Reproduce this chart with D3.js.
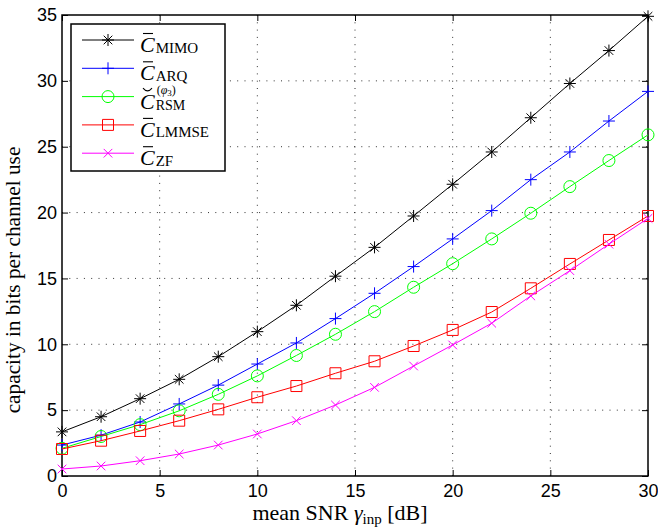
<!DOCTYPE html>
<html>
<head>
<meta charset="utf-8">
<script src="https://cdn.jsdelivr.net/npm/d3@7"></script>
<style>
  body { margin: 0; background: #fff; }
  svg { display: block; }
  .tick text { font-family: "Liberation Sans", Arial, sans-serif; font-size: 18px; fill: #000; }
</style>
</head>
<body>
<svg id="chart" width="658" height="527"></svg>
<script>
// mean SNR in dB
const snr = [0, 2, 4, 6, 8, 10, 12, 14, 16, 18, 20, 22, 24, 26, 28, 30]

const mimo  = [3.35, 4.5, 5.87, 7.34, 9.06, 10.96, 12.96, 15.17, 17.36, 19.74, 22.15, 24.6, 27.2, 29.8, 32.3, 34.9]
const arq   = [2.35, 3.1, 4.1, 5.47, 6.9, 8.5, 10.1, 11.95, 13.87, 15.9, 18.0, 20.15, 22.5, 24.6, 26.95, 29.2]
const rsm   = [2.1, 3.0, 3.9, 4.95, 6.2, 7.6, 9.15, 10.76, 12.48, 14.33, 16.12, 18.0, 19.95, 21.97, 23.95, 25.9]
const lmmse = [2.05, 2.68, 3.42, 4.2, 5.06, 5.98, 6.83, 7.8, 8.71, 9.87, 11.09, 12.45, 14.25, 16.1, 17.92, 19.74]
const zf    = [0.53, 0.76, 1.16, 1.67, 2.35, 3.19, 4.2, 5.39, 6.73, 8.35, 9.95, 11.6, 13.67, 15.59, 17.6, 19.56]

const xTicks = [0, 5, 10, 15, 20, 25, 30]
const yTicks = [0, 5, 10, 15, 20, 25, 30, 35]

const series = [
  { name: "MIMO",  values: mimo,  color: "#000000", marker: "star" },
  { name: "ARQ",   values: arq,   color: "#0000ff", marker: "plus" },
  { name: "RSM",   values: rsm,   color: "#00ff00", marker: "circle" },
  { name: "LMMSE", values: lmmse, color: "#ff0000", marker: "square" },
  { name: "ZF",    values: zf,    color: "#ff00ff", marker: "cross" }
]

const width = 658, height = 527
const margin = { top: 15, right: 10, bottom: 51, left: 62 }
const innerW = width - margin.left - margin.right
const innerH = height - margin.top - margin.bottom

const svg = d3.select("#chart")
const g = svg.append("g").attr("transform", "translate(" + margin.left + "," + margin.top + ")")

const x = d3.scaleLinear().domain([0, 30]).range([0, innerW])
const y = d3.scaleLinear().domain([0, 35]).range([innerH, 0])

/* dotted grid */
g.append("g").selectAll("line").data(xTicks.slice(1, -1)).enter().append("line")
  .attr("x1", d => x(d)).attr("x2", d => x(d)).attr("y1", 0).attr("y2", innerH)
  .attr("stroke", "#333").attr("stroke-width", 1).attr("stroke-dasharray", "1,6.3")
g.append("g").selectAll("line").data(yTicks.slice(1, -1)).enter().append("line")
  .attr("y1", d => y(d)).attr("y2", d => y(d)).attr("x1", 0).attr("x2", innerW)
  .attr("stroke", "#333").attr("stroke-width", 1).attr("stroke-dasharray", "1,6.3")

/* axes, ticks pointing inwards like matlab */
const tick = 6
g.append("g").attr("transform", "translate(0," + innerH + ")")
  .call(d3.axisBottom(x).tickValues(xTicks).tickSizeInner(-tick).tickSizeOuter(0).tickPadding(8))
g.append("g")
  .call(d3.axisLeft(y).tickValues(yTicks).tickSizeInner(-tick).tickSizeOuter(0).tickPadding(5))
g.append("g")
  .call(d3.axisTop(x).tickValues(xTicks).tickSizeInner(-tick).tickSizeOuter(0).tickFormat(""))
g.append("g").attr("transform", "translate(" + innerW + ",0)")
  .call(d3.axisRight(y).tickValues(yTicks).tickSizeInner(-tick).tickSizeOuter(0).tickFormat(""))
g.selectAll(".domain").remove()
g.selectAll(".tick line").attr("stroke", "#000").attr("stroke-width", 1)

g.append("rect").attr("width", innerW).attr("height", innerH)
  .attr("fill", "none").attr("stroke", "#000").attr("stroke-width", 1.5)

/* marker shapes */
function markerPath(type) {
  const s = 6
  const d = 4.3
  if (type == "plus") return "M" + -s + ",0H" + s + "M0," + -s + "V" + s
  if (type == "cross") return "M" + -d + "," + -d + "L" + d + "," + d + "M" + -d + "," + d + "L" + d + "," + -d
  if (type == "star") return "M" + -s + ",0H" + s + "M0," + -s + "V" + s +
    "M" + -d + "," + -d + "L" + d + "," + d + "M" + -d + "," + d + "L" + d + "," + -d
  if (type == "square") return "M-5.5,-5.5H5.5V5.5H-5.5Z"
  return "M6,0A6,6 0 1,1 -6,0A6,6 0 1,1 6,0Z"
}

const line = d3.line()
  .x((d, i) => x(snr[i]))
  .y(d => y(d))

series.forEach(s => {
  g.append("path")
    .attr("d", line(s.values))
    .attr("fill", "none")
    .attr("stroke", s.color)
    .attr("stroke-width", 1)

  g.append("g").selectAll("path").data(s.values).enter().append("path")
    .attr("transform", (d, i) => "translate(" + x(snr[i]) + "," + y(d) + ")")
    .attr("d", markerPath(s.marker))
    .attr("fill", "none")
    .attr("stroke", s.color)
    .attr("stroke-width", 1)
})

/* legend */
const serif = "'Liberation Serif', 'DejaVu Serif', serif"
const legend = g.append("g").attr("transform", "translate(9,9)")
legend.append("rect").attr("width", 154).attr("height", 147)
  .attr("fill", "#fff").attr("stroke", "#000").attr("stroke-width", 1.5)

series.forEach((s, i) => {
  const ly = 16 + i * 28.3
  const row = legend.append("g").attr("transform", "translate(0," + ly + ")")
  row.append("line").attr("x1", 11).attr("x2", 63).attr("stroke", s.color).attr("stroke-width", 1)
  row.append("path").attr("transform", "translate(37,0)").attr("d", markerPath(s.marker))
    .attr("fill", "none").attr("stroke", s.color).attr("stroke-width", 1)

  const c = row.append("text").attr("x", 69).attr("y", 12)
    .attr("font-family", serif).attr("font-size", 22).attr("font-style", "italic").text("C")
  const cw = c.node().getComputedTextLength()
  // bar or breve over C
  if (s.name == "RSM") {
    row.append("path").attr("d", "M72,-8.5 Q76.5,-3 81,-8.5").attr("fill", "none")
      .attr("stroke", "#000").attr("stroke-width", 1.1)
  } else {
    row.append("line").attr("x1", 72).attr("x2", 82).attr("y1", -6.5).attr("y2", -6.5)
      .attr("stroke", "#000").attr("stroke-width", 1.1)
  }
  row.append("text").attr("x", 69 + cw + 1).attr("y", s.name == "RSM" ? 13.5 : 12.5)
    .attr("font-family", serif).attr("font-size", s.name == "RSM" ? 14 : 15).text(s.name)
  if (s.name == "RSM") {
    const sup = row.append("text").attr("x", 69 + cw + 2).attr("y", -2.5)
      .attr("font-family", serif).attr("font-size", 12)
    sup.append("tspan").text("(")
    sup.append("tspan").attr("font-style", "italic").text("φ")
    sup.append("tspan").attr("font-size", 9).attr("dy", 2).text("3")
    sup.append("tspan").attr("dy", -2).text(")")
  }
})

/* axis labels */
const xl = svg.append("text").attr("x", 340).attr("y", 520).attr("text-anchor", "middle")
  .attr("font-family", serif).attr("font-size", 22)
xl.append("tspan").text("mean SNR ")
xl.append("tspan").attr("font-style", "italic").text("γ")
xl.append("tspan").attr("font-size", 15).attr("dy", 4).text("inp")
xl.append("tspan").attr("dy", -4).text(" [dB]")

svg.append("text").attr("transform", "translate(20,280) rotate(-90)")
  .attr("text-anchor", "middle").attr("font-family", serif).attr("font-size", 21.3)
  .text("capacity in bits per channel use")
</script>
</body>
</html>
